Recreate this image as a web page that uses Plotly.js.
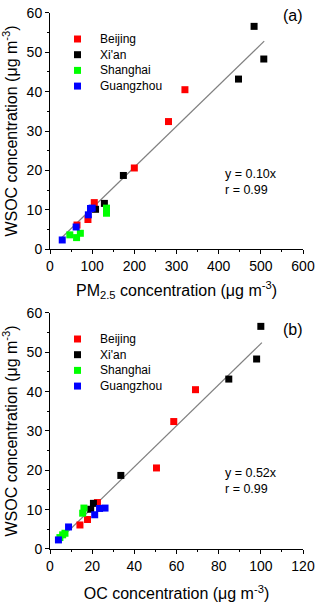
<!DOCTYPE html>
<html>
<head>
<meta charset="utf-8">
<script src="https://cdn.plot.ly/plotly-3.0.1.min.js"></script>
<style>html,body{margin:0;padding:0;background:#fff;}#chart{width:320px;height:604px;}</style>
</head>
<body>
<div id="chart"></div>
<script>
// Beijing
const bjWSOC = [40.5, 32.4, 20.6, 11.8, 6.1, 7.5];
const bjPM = [320, 281, 200, 105, 64, 90];
const bjOC = [69.0, 58.7, 50.5, 22.5, 14.2, 17.8];
// Xi'an
const xaWSOC = [56.6, 48.3, 43.2, 18.7, 11.6, 10.1];
const xaPM = [484, 507, 447, 174, 129, 108];
const xaOC = [100.0, 98.0, 84.8, 33.6, 20.6, 19.3];
// Shanghai
const shWSOC = [10.4, 9.1, 4.0, 2.9, 3.6];
const shPM = [134, 134, 72, 63, 47];
const shOC = [16.1, 15.5, 7.1, 4.7, 6.0];
// Guangzhou
const gzWSOC = [2.3, 5.6, 8.7, 10.3, 10.4];
const gzPM = [29, 62, 91, 96, 100];
const gzOC = [4.0, 8.8, 21.2, 23.5, 26.1];

const cities = ["Beijing", "Xi'an", "Shanghai", "Guangzhou"];
const colors = ["#FF0000", "#000000", "#00FF00", "#0000FF"];
const pmData = [bjPM, xaPM, shPM, gzPM];
const ocData = [bjOC, xaOC, shOC, gzOC];
const wsocData = [bjWSOC, xaWSOC, shWSOC, gzWSOC];

// Fits
const fitA = {slope: 0.104, xRange: [27, 508], label: "y = 0.10x", r: "r = 0.99"};
const fitB = {slope: 0.522, xRange: [3.5, 100.5], label: "y = 0.52x", r: "r = 0.99"};

const FONT = 'Liberation Sans, Arial, sans-serif';

const traces = [];
traces.push({x: fitA.xRange, y: fitA.xRange.map(v => v * fitA.slope), mode: 'lines',
  line: {color: '#808080', width: 1.2}, xaxis: 'x', yaxis: 'y', showlegend: false, hoverinfo: 'skip'});
traces.push({x: fitB.xRange, y: fitB.xRange.map(v => v * fitB.slope), mode: 'lines',
  line: {color: '#808080', width: 1.2}, xaxis: 'x2', yaxis: 'y2', showlegend: false, hoverinfo: 'skip'});

cities.forEach((c, i) => {
  traces.push({x: pmData[i], y: wsocData[i], name: c, mode: 'markers', type: 'scatter',
    marker: {symbol: 'square', size: 7, color: colors[i]}, xaxis: 'x', yaxis: 'y', showlegend: false});
  traces.push({x: ocData[i], y: wsocData[i], name: c, mode: 'markers', type: 'scatter',
    marker: {symbol: 'square', size: 7, color: colors[i]}, xaxis: 'x2', yaxis: 'y2', showlegend: false});
});

const tickFont = {family: FONT, size: 14, color: '#000'};
const titleFont = {family: FONT, size: 16, color: '#000'};

function xAx(range, dtick, title, anchor, standoff) {
  return {domain: [0.15625, 0.946875], range: range, dtick: dtick, tick0: 0, anchor: anchor,
    showgrid: false, zeroline: false, showline: true, linecolor: '#000', linewidth: 1,
    ticks: 'outside', ticklen: 4, tickwidth: 1, tickcolor: '#000',
    minor: {ticks: 'outside', ticklen: 2, tickwidth: 1, tickcolor: '#000', dtick: dtick / 2, showgrid: false},
    tickfont: tickFont, title: {text: title, font: titleFont, standoff: standoff}, automargin: false};
}
function yAx(domain, anchor) {
  return {domain: domain, range: [0, 60], dtick: 10, tick0: 0, anchor: anchor,
    showgrid: false, zeroline: false, showline: true, linecolor: '#000', linewidth: 1,
    ticks: 'outside', ticklen: 4, tickwidth: 1, tickcolor: '#000',
    minor: {ticks: 'outside', ticklen: 2, tickwidth: 1, tickcolor: '#000', dtick: 5, showgrid: false},
    tickfont: tickFont, title: {text: 'WSOC concentration (μg m<sup>-3</sup>)', font: titleFont}, automargin: false};
}

// Legend (drawn inside each panel, in axis-domain coordinates)
const legKeyX = 0.1087, legTextX = 0.19, legTopY = 0.8898, legStep = 0.0665;
const legHalfW = 0.0138, legHalfH = 0.0148;
const annotations = [];
const shapes = [];
[['x', 'y'], ['x2', 'y2']].forEach(([xa, ya]) => {
  cities.forEach((c, i) => {
    const yc = legTopY - i * legStep;
    annotations.push({xref: xa + ' domain', yref: ya + ' domain', x: legTextX, y: yc, text: c,
      showarrow: false, xanchor: 'left', yanchor: 'middle', font: {family: FONT, size: 12, color: '#000'}});
    shapes.push({type: 'rect', xref: xa + ' domain', yref: ya + ' domain',
      x0: legKeyX - legHalfW, x1: legKeyX + legHalfW, y0: yc - legHalfH, y1: yc + legHalfH,
      fillcolor: colors[i], line: {width: 0}});
  });
});

annotations.push(
  {xref: 'x domain', yref: 'y domain', x: 0.962, y: 0.99, text: '(a)', showarrow: false, xanchor: 'center', yanchor: 'middle',
    font: {family: FONT, size: 16, color: '#000'}},
  {xref: 'x domain', yref: 'y domain', x: 0.684, y: 0.286, text: fitA.label + '<br>' + fitA.r, showarrow: false, align: 'left',
    xanchor: 'left', yanchor: 'middle', font: {family: FONT, size: 12.5, color: '#000'}},
  {xref: 'x2 domain', yref: 'y2 domain', x: 0.962, y: 0.928, text: '(b)', showarrow: false, xanchor: 'center', yanchor: 'middle',
    font: {family: FONT, size: 16, color: '#000'}},
  {xref: 'x2 domain', yref: 'y2 domain', x: 0.684, y: 0.286, text: fitB.label + '<br>' + fitB.r, showarrow: false, align: 'left',
    xanchor: 'left', yanchor: 'middle', font: {family: FONT, size: 12.5, color: '#000'}}
);

const layout = {
  width: 320, height: 604,
  margin: {l: 0, r: 0, t: 0, b: 0},
  paper_bgcolor: '#fff', plot_bgcolor: '#fff',
  showlegend: false,
  xaxis: xAx([0, 600], 100, 'PM<sub>2.5</sub> concentration (μg m<sup>-3</sup>)', 'y', 11),
  yaxis: yAx([0.5877, 0.9785], 'x'),
  xaxis2: xAx([0, 120], 20, 'OC concentration (μg m<sup>-3</sup>)', 'y2', 15),
  yaxis2: yAx([0.0911, 0.4818], 'x2'),
  annotations: annotations,
  shapes: shapes
};

Plotly.newPlot('chart', traces, layout, {staticPlot: true, displayModeBar: false});
</script>
</body>
</html>
